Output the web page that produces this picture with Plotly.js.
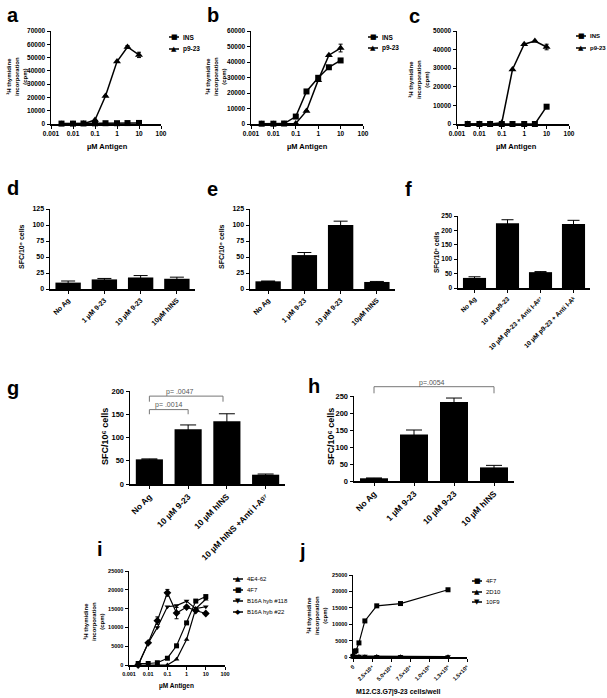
<!DOCTYPE html>
<html>
<head>
<meta charset="utf-8">
<script src="https://cdn.plot.ly/plotly-3.0.1.min.js"></script>
<style>
html, body { margin: 0; padding: 0; background: #fff; }
#plot { width: 607px; height: 698px; }
</style>
</head>
<body>
<div id="plot"></div>
<script>
// antigen doses (uM) for the proliferation curves
const doses = [0.003, 0.01, 0.03, 0.1, 0.3, 1, 3, 10];
const logTicks = [0.001, 0.01, 0.1, 1, 10, 100];
const logTickText = ["0.001", "0.01", "0.1", "1", "10", "100"];

// panel a
const aINS = [300, 300, 400, 500, 600, 600, 700, 800];
const aP923 = [0, 0, 200, 3000, 21000, 47000, 58000, 52000];
const aP923Err = [0, 0, 0, 0, 0, 0, 1000, 2000];

// panel b
const bINS = [200, 200, 300, 4800, 21000, 29800, 36600, 41000];
const bP923 = [0, 0, 0, 400, 8400, 28300, 44400, 49000];
const bP923Err = [0, 0, 0, 0, 0, 0, 0, 2500];

// panel c
const cINS = [0, 0, 0, 0, 0, 0, 0, 9300];
const cINSErr = [0, 0, 0, 0, 0, 0, 0, 800];
const cP923 = [0, 0, 0, 700, 29300, 42900, 44600, 41400];
const cP923Err = [0, 0, 0, 0, 0, 0, 0, 1500];

// ELISPOT bars
const dLabels = ["No Ag", "1 µM 9-23", "10 µM 9-23", "10µM hINS"];
const dVals = [10, 15, 18, 16];
const dErr = [2.5, 1.5, 3, 2.5];
const eVals = [12, 53, 100, 11];
const eErr = [0.5, 4, 6, 0.8];
const fLabels = ["No Ag", "10 µM p9-23", "10 µM p9-23 + Anti I-Aᵍ⁷", "10 µM p9-23 + Anti I-Aᵏ"];
const fVals = [35, 225, 55, 222];
const fErr = [4, 12, 2, 13];
const gLabels = ["No Ag", "10 µM 9-23", "10 µM hINS", "10 µM hINS +Anti I-Aᵍ⁷"];
const gVals = [53, 118, 135, 20];
const gErr = [1, 9, 16, 1.5];
const hLabels = ["No Ag", "1 µM 9-23", "10 µM 9-23", "10 µM hINS"];
const hVals = [8, 137, 232, 40];
const hErr = [1, 13, 12, 6];

// panel i
const i4E4 = [0, 0, 0, 0, 1500, 6800, 15000, 17500];
const i4F7 = [400, 400, 600, 1800, 5100, 11200, 17000, 18200];
const i118 = [0, 5800, 10000, 15500, 15800, 17000, 15000, 15500];
const i22 = [0, 5900, 11800, 19200, 13800, 15400, 14500, 13700];
const i22Err = [0, 0, 1000, 900, 1500, 0, 0, 0];

// panel j
const jCells = [0, 1953, 3906, 7812, 15625, 31250, 62500, 125000];
const j4F7 = [200, 1700, 1900, 4300, 11000, 15600, 16300, 20500];
const j2D10 = [100, 120, 100, 150, 100, 120, 100, 100];
const j10F9 = [200, 250, 200, 300, 300, 250, 200, 150];
const jTicks = [0, 25000, 50000, 75000, 100000, 125000, 150000];
const jTickText = ["0", "2.5×10⁴", "5.0×10⁴", "7.5×10⁴", "1.0×10⁵", "1.3×10⁵", "1.5×10⁵"];

const W = 607, H = 698;
const FONT = "Liberation Sans, Arial, sans-serif";
const px = x => x / W;
const py = y => 1 - y / H;

// plot boxes in pixels: [left, right, top, bottom]
const boxes = {
  1: [51, 161, 31, 124],
  2: [251, 363, 31, 124],
  3: [457, 569, 31, 124],
  4: [50, 195, 209, 289],
  5: [250, 395, 209, 289],
  6: [458, 590, 216, 288],
  7: [130, 285, 391, 484],
  8: [354, 514, 396, 481],
  9: [129, 225, 571, 665],
  10: [353, 467, 575, 657]
};

const xk = k => (k === 1 ? "x" : "x" + k);
const yk = k => (k === 1 ? "y" : "y" + k);

function axisBase(size) {
  return {
    showline: true, linecolor: "#000", linewidth: 1.5,
    ticks: "outside", ticklen: 3, tickwidth: 1, tickcolor: "#000",
    showgrid: false, zeroline: false, fixedrange: true,
    tickfont: { family: FONT, size: size, color: "#000", weight: "bold" }
  };
}

let layout = {
  width: W, height: H,
  margin: { l: 0, r: 0, t: 0, b: 0 },
  paper_bgcolor: "#fff", plot_bgcolor: "rgba(0,0,0,0)",
  showlegend: false,
  bargap: 0.3,
  font: { family: FONT, color: "#000" },
  annotations: [],
  shapes: []
};

function setAxes(k, xa, ya) {
  const b = boxes[k];
  xa.domain = [px(b[0]), px(b[1])];
  ya.domain = [py(b[3]), py(b[2])];
  xa.anchor = yk(k);
  ya.anchor = xk(k);
  layout[k === 1 ? "xaxis" : "xaxis" + k] = xa;
  layout[k === 1 ? "yaxis" : "yaxis" + k] = ya;
}

function logX(size) {
  return Object.assign(axisBase(size), { type: "log", range: [-3, 2], tickvals: logTicks, ticktext: logTickText });
}
function linY(top, step, size) {
  return Object.assign(axisBase(size), { range: [0, top], dtick: step, tick0: 0, tickformat: "d" });
}
function catX(size) {
  return Object.assign(axisBase(size), { type: "category", tickangle: -45 });
}

setAxes(1, logX(6.5), linY(70000, 10000, 6.5));
setAxes(2, logX(6.5), linY(60000, 10000, 6.5));
setAxes(3, logX(6.5), linY(50000, 10000, 6.5));
setAxes(4, catX(7), linY(125, 25, 7));
setAxes(5, catX(7), linY(125, 25, 7));
setAxes(6, catX(6.5), linY(250, 50, 6.5));
setAxes(7, catX(8.5), linY(200, 50, 7.5));
setAxes(8, catX(8.5), linY(250, 50, 7.5));
setAxes(9, logX(5.5), linY(25000, 5000, 5.5));
let jx = Object.assign(axisBase(5.5), { range: [0, 150000], tickvals: jTicks, ticktext: jTickText, tickangle: -45 });
setAxes(10, jx, linY(25000, 5000, 5.5));

function lineTrace(k, x, y, symbol, size, err) {
  let t = {
    type: "scatter", mode: "lines+markers", x: x, y: y,
    xaxis: xk(k), yaxis: yk(k),
    line: { color: "#000", width: 1.5 },
    marker: { symbol: symbol, size: size, color: "#000" },
    cliponaxis: false, hoverinfo: "skip"
  };
  if (err) t.error_y = { type: "data", array: err, visible: true, color: "#000", thickness: 1, width: 2 };
  return t;
}

function barTrace(k, labels, vals, err, cap) {
  return {
    type: "bar", x: labels, y: vals, xaxis: xk(k), yaxis: yk(k),
    marker: { color: "#000", line: { width: 0 } },
    error_y: { type: "data", array: err, visible: true, color: "#000", thickness: 1, width: cap },
    hoverinfo: "skip"
  };
}

let data = [
  lineTrace(1, doses, aINS, "square", 6),
  lineTrace(1, doses, aP923, "triangle-up", 7, aP923Err),
  lineTrace(2, doses, bINS, "square", 6),
  lineTrace(2, doses, bP923, "triangle-up", 7, bP923Err),
  lineTrace(3, doses, cINS, "square", 6, cINSErr),
  lineTrace(3, doses, cP923, "triangle-up", 7, cP923Err),
  barTrace(4, dLabels, dVals, dErr, 7),
  barTrace(5, dLabels, eVals, eErr, 7),
  barTrace(6, fLabels, fVals, fErr, 6),
  barTrace(7, gLabels, gVals, gErr, 8),
  barTrace(8, hLabels, hVals, hErr, 8),
  lineTrace(9, doses, i4E4, "triangle-up", 5),
  lineTrace(9, doses, i4F7, "square", 5),
  lineTrace(9, doses, i118, "triangle-down", 5),
  lineTrace(9, doses, i22, "diamond", 6, i22Err),
  lineTrace(10, jCells, j4F7, "square", 5),
  lineTrace(10, jCells, j2D10, "triangle-up", 5),
  lineTrace(10, jCells, j10F9, "triangle-down", 5)
];
data.filter(t => t.xaxis === "x9" || t.xaxis === "x10").forEach(t => { t.line.width = 1.2; });

// text helpers, positions in pixels
function note(text, x, y, size, opts) {
  layout.annotations.push(Object.assign({
    xref: "paper", yref: "paper", x: px(x), y: py(y),
    xanchor: "center", yanchor: "middle", showarrow: false, text: text,
    font: { family: FONT, size: size, color: "#000", weight: "bold" }
  }, opts || {}));
}

// panel letters
[["a", 5, 15], ["b", 205, 15], ["c", 407, 16], ["d", 5, 188], ["e", 205, 189], ["f", 403, 189],
 ["g", 5, 388], ["h", 306, 386], ["i", 95, 549], ["j", 297, 551]].forEach(l => {
  note(l[0], l[1], l[2], 20, { xanchor: "left" });
});

// axis titles
const thy = "³H thymidine<br>incorporation<br>(cpm)";
note(thy, 17, 77, 6, { textangle: -90 });
note(thy, 216, 77, 6, { textangle: -90 });
note(thy, 419, 80, 6, { textangle: -90 });
note(thy, 94, 622, 6, { textangle: -90 });
note(thy, 317, 615, 6, { textangle: -90 });
note("µM Antigen", 107, 146, 7.5);
note("µM Antigen", 307, 146, 7.5);
note("µM Antigen", 516, 146, 7.5);
note("µM Antigen", 176, 686, 6.5);
note("M12.C3.G7|9-23 cells/well", 398, 692, 7);
const sfc = "SFC/10⁶ cells";
note(sfc, 21, 247, 7, { textangle: -90 });
note(sfc, 221, 247, 7, { textangle: -90 });
note(sfc, 437, 252, 6.5, { textangle: -90 });
note(sfc, 105, 437, 9, { textangle: -90 });
note(sfc, 331, 437, 9, { textangle: -90 });

// legends drawn by hand: short line, marker glyph, label
function legendEntry(x0, y, glyph, label, size, weight) {
  layout.shapes.push({ type: "line", xref: "paper", yref: "paper",
    x0: px(x0), x1: px(x0 + 10), y0: py(y), y1: py(y), line: { color: "#000", width: 1.5 } });
  note(glyph, x0 + 5, y, 7, { font: { family: "DejaVu Sans", size: 7, color: "#000" } });
  note(label, x0 + 12, y, size, { xanchor: "left", font: { family: FONT, size: size, color: "#000", weight: weight } });
}
legendEntry(169, 37, "■", "INS", 6.5, "bold");
legendEntry(169, 49, "▲", "p9-23", 6.5, "bold");
legendEntry(368, 37, "■", "INS", 6.5, "bold");
legendEntry(368, 48, "▲", "p9-23", 6.5, "bold");
legendEntry(576, 36, "■", "INS", 6, "bold");
legendEntry(576, 48, "▲", "p9-23", 6, "bold");
legendEntry(233, 579, "▲", "4E4-62", 6, "normal");
legendEntry(233, 590, "■", "4F7", 6, "normal");
legendEntry(233, 601, "▼", "B16A hyb #118", 6, "normal");
legendEntry(233, 612, "◆", "B16A hyb #22", 6, "normal");
legendEntry(472, 581, "■", "4F7", 6, "normal");
legendEntry(472, 592, "▲", "2D10", 6, "normal");
legendEntry(472, 602, "▼", "10F9", 6, "normal");

// significance brackets
function seg(xref, yref, x0, x1, y0, y1) {
  layout.shapes.push({ type: "line", xref: xref, yref: yref, x0: x0, x1: x1, y0: y0, y1: y1,
    line: { color: "#777", width: 1 } });
}
function bracket(xref, yref, a, b, top, foot) {
  seg(xref, yref, a, a, foot, top);
  seg(xref, yref, a, b, top, top);
  seg(xref, yref, b, b, foot, top);
}
bracket("x7", "y7", 0, 1, 160, 150);
bracket("x7", "y7", 0, 1.9, 189, 177);
layout.annotations.push({ xref: "x7", yref: "y7", x: 0.5, y: 170, text: "p= .0014", showarrow: false,
  font: { family: FONT, size: 7, color: "#555" } });
layout.annotations.push({ xref: "x7", yref: "y7", x: 0.8, y: 198, text: "p= .0047", showarrow: false,
  font: { family: FONT, size: 7, color: "#555" } });
bracket("x8", "paper", 0, 3, py(386.7), py(393.3));
layout.annotations.push({ xref: "x8", yref: "paper", x: 1.45, y: py(382.5), text: "p=.0054", showarrow: false,
  font: { family: FONT, size: 7, color: "#555" } });

Plotly.newPlot("plot", data, layout, { staticPlot: true });
</script>
</body>
</html>
